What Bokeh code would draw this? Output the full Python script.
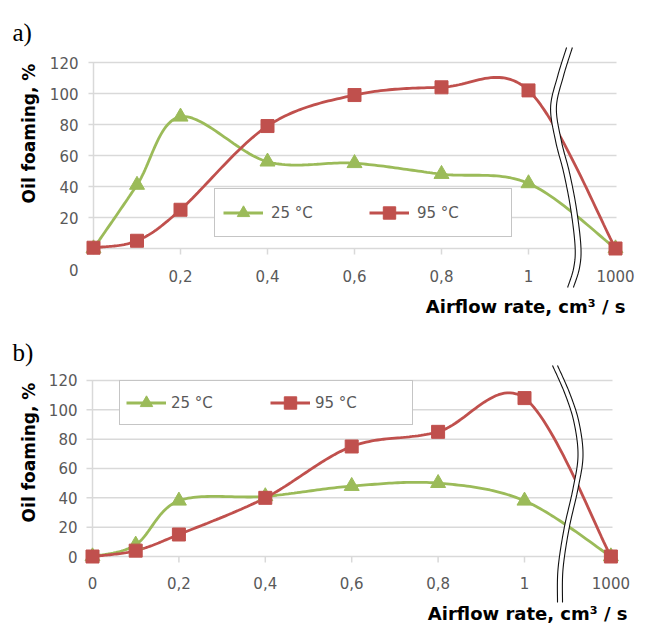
import numpy as np
from bokeh.plotting import figure
from bokeh.models import Legend, LegendItem
from bokeh.layouts import column
from bokeh.embed import file_html
from bokeh.resources import INLINE
from bokeh.core.properties import value

# ---------------- data ----------------
airflow = [0, 0.1, 0.2, 0.4, 0.6, 0.8, 1.0, 1000]
tick_values = [0, 0.2, 0.4, 0.6, 0.8, 1.0, 1000]
tick_labels = ["0", "0,2", "0,4", "0,6", "0,8", "1", "1000"]
y_ticks = [0, 20, 40, 60, 80, 100, 120]
series_names = ["25 °C", "95 °C"]

a_25 = [0, 41, 85, 56, 55, 48, 42, 0]
a_95 = [0.5, 5, 25, 79, 99, 104, 102, 0]
b_25 = [0, 8, 38, 41, 48, 50, 38, 0]
b_95 = [0, 4, 15, 40, 75, 85, 108, 0]

x_title = "Airflow rate, cm³ / s"
y_title = "Oil foaming, %"

GREEN = "#9BBB59"
RED = "#C0504D"
GRID = "#D9D9D9"
TICKTXT = "#595959"

BREAK_POS = 1.2  # axis position used for the value after the axis break


def axis_pos(v):
    return v if v <= 1.0 else BREAK_POS


def smooth(xs, ys, n=30):
    P = np.column_stack([xs, ys]).astype(float)
    m = len(P)
    out = [P[0]]
    for i in range(m - 1):
        p0 = P[i - 1] if i > 0 else P[i]
        p1 = P[i]
        p2 = P[i + 1]
        p3 = P[i + 2] if i + 2 < m else P[i + 1]
        c1 = p1 + (p2 - p0) / 6.0
        c2 = p2 - (p3 - p1) / 6.0
        t = np.linspace(0, 1, n + 1)[1:, None]
        seg = (1 - t) ** 3 * p1 + 3 * (1 - t) ** 2 * t * c1 + 3 * (1 - t) * t ** 2 * c2 + t ** 3 * p2
        out.extend(seg)
    out = np.array(out)
    return out[:, 0], out[:, 1]


PANELS = [
    dict(letter="a)", s25=a_25, s95=a_95, H=318, zero_py=248, sy=1.55, x0_px=93, sx=435,
         letter_py=32, ylab_right=78, ylabels=y_ticks[1:], extra_zero_py=269,
         xlab_py=275, xlabels_from=1, xtitle_right=625, xtitle_py=306, ytitle_py=133,
         grid_px=(88, 616),
         legend=dict(loc=(214, 81), padding=8, spacing=12, label_width=86, standoff=8),
         brk=dict(y0=47, y1=287, gap=2.9,
                  ts=[0, 0.12, 0.25, 0.39, 0.52, 0.67, 0.83, 0.92, 1.0],
                  xs=[569, 560, 553, 558, 566, 573, 577.5, 576, 570])),
    dict(letter="b)", s25=b_25, s95=b_95, H=306, zero_py=238, sy=1.4667, x0_px=92, sx=432,
         letter_py=34, ylab_right=77, ylabels=y_ticks, extra_zero_py=None,
         xlab_py=264, xlabels_from=0, xtitle_right=627, xtitle_py=295, ytitle_py=134,
         grid_px=(86, 612),
         legend=dict(loc=(119, 199), padding=6, spacing=8, label_width=91, standoff=5),
         brk=dict(y0=47, y1=284, gap=2.5,
                  ts=[0, 0.12, 0.24, 0.38, 0.52, 0.69, 0.86, 1.0],
                  xs=[554.5, 567, 576, 580, 575, 566, 560, 559.5])),
]


def make_panel(c):
    W, H = 646, c["H"]
    X = lambda px: (px - c["x0_px"]) / c["sx"]
    Y = lambda py: (c["zero_py"] - py) / c["sy"]

    p = figure(width=W, height=H, output_backend="svg", toolbar_location=None,
               x_range=(X(0), X(W)), y_range=(Y(H), Y(0)),
               x_axis_location=None, y_axis_location=None, min_border=0,
               background_fill_color="white", border_fill_color="white")
    p.outline_line_color = None
    p.grid.visible = False

    # grid lines
    gx0, gx1 = X(c["grid_px"][0]), X(c["grid_px"][1])
    p.segment(x0=[gx0] * len(y_ticks), x1=[gx1] * len(y_ticks), y0=y_ticks, y1=y_ticks,
              line_color=GRID, line_width=1.5)
    # vertical axis line
    p.segment(x0=[0], x1=[0], y0=[0], y1=[max(y_ticks)], line_color=GRID, line_width=1.5)
    # x tick marks
    tpos = [axis_pos(v) for v in tick_values]
    p.segment(x0=tpos, x1=tpos, y0=[0] * len(tpos), y1=[Y(c["zero_py"] + 6)] * len(tpos),
              line_color=GRID, line_width=1.5)

    # series
    xp = [axis_pos(v) for v in airflow]
    sx25, sy25 = smooth(xp, c["s25"])
    sx95, sy95 = smooth(xp, c["s95"])
    l25 = p.line(sx25, sy25, line_color=GREEN, line_width=2.8)
    l95 = p.line(sx95, sy95, line_color=RED, line_width=2.8)
    m25 = p.scatter(xp, c["s25"], marker="triangle", size=15, fill_color=GREEN, line_color=GREEN)
    m95 = p.scatter(xp, c["s95"], marker="square", size=13, fill_color=RED, line_color=RED)

    # axis break (decoration)
    b = c["brk"]
    tt = np.array(b["ts"])
    ts_, xs_ = smooth(tt, b["xs"], n=20)
    pys = b["y0"] + ts_ * (b["y1"] - b["y0"])
    left = xs_ - b["gap"]
    right = xs_ + b["gap"]
    yy = [Y(v) for v in pys]
    p.patch(list(map(X, left)) + list(map(X, right[::-1])), yy + yy[::-1],
            fill_color="white", line_color=None)
    p.line(list(map(X, left)), yy, line_color="#111111", line_width=1.1)
    p.line(list(map(X, right)), yy, line_color="#111111", line_width=1.1)

    # texts
    p.text(x=[X(12)], y=[Y(c["letter_py"])], text=[c["letter"]],
           text_font=value("Liberation Serif"), text_font_size="25px",
           text_color="black", text_baseline="alphabetic", text_align="left")
    ylbl = c["ylabels"]
    p.text(x=[X(c["ylab_right"])] * len(ylbl), y=ylbl, text=[str(v) for v in ylbl],
           text_font=value("DejaVu Sans"), text_font_size="15px", text_color=TICKTXT,
           text_align="right", text_baseline="middle")
    if c["extra_zero_py"] is not None:
        p.text(x=[X(c["ylab_right"])], y=[Y(c["extra_zero_py"])], text=[str(y_ticks[0])],
               text_font=value("DejaVu Sans"), text_font_size="15px", text_color=TICKTXT,
               text_align="right", text_baseline="middle")
    k = c["xlabels_from"]
    xl = tpos[k:]
    p.text(x=xl, y=[Y(c["xlab_py"])] * len(xl), text=tick_labels[k:],
           text_font=value("DejaVu Sans"), text_font_size="15px", text_color=TICKTXT,
           text_align="center", text_baseline="middle")
    p.text(x=[X(c["xtitle_right"])], y=[Y(c["xtitle_py"])], text=[x_title],
           text_font=value("DejaVu Sans"), text_font_style="bold", text_font_size="18px",
           text_color="black", text_align="right", text_baseline="middle")
    p.text(x=[X(28)], y=[Y(c["ytitle_py"])], text=[y_title], angle=np.pi / 2,
           text_font=value("DejaVu Sans"), text_font_style="bold", text_font_size="17px",
           text_color="black", text_align="center", text_baseline="middle")

    lg = c["legend"]
    legend = Legend(items=[LegendItem(label=series_names[0], renderers=[l25, m25]),
                           LegendItem(label=series_names[1], renderers=[l95, m95])],
                    location=lg["loc"], orientation="horizontal", margin=0,
                    padding=lg["padding"], spacing=lg["spacing"],
                    glyph_width=40, glyph_height=31, label_height=31,
                    label_width=lg["label_width"], label_standoff=lg["standoff"],
                    label_text_font="DejaVu Sans", label_text_font_size="15px",
                    label_text_color=TICKTXT, border_line_color="#8C8C8C",
                    border_line_width=1, background_fill_color="white",
                    background_fill_alpha=1.0)
    p.add_layout(legend)
    return p


plots = [make_panel(c) for c in PANELS]
layout = column(*plots, spacing=0)
open("out.html", "w").write(file_html(layout, INLINE))
